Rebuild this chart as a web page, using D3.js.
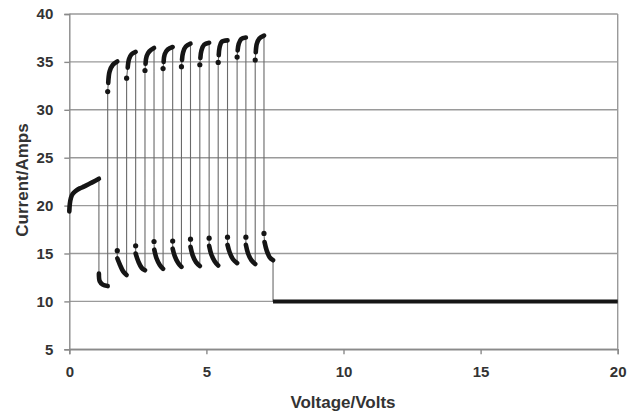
<!DOCTYPE html>
<html>
<head>
<meta charset="utf-8">
<script src="https://cdn.jsdelivr.net/npm/d3@7"></script>
<style>
  body { margin: 0; background: #fff; }
  text { font-family: "Liberation Sans", Arial, sans-serif; font-weight: bold; fill: #333; }
</style>
</head>
<body>
<div id="viz"></div>
<script>
const width = 636;
const height = 412;

const xTicks = [0, 5, 10, 15, 20];
const yTicks = [5, 10, 15, 20, 25, 30, 35, 40];

// start-up ramp, [volts, amps]
const rampPts = [[0, 19.4], [0.02, 20.2], [0.06, 20.8], [0.12, 21.2], [0.22, 21.5],
  [0.38, 21.8], [0.55, 22.0], [0.75, 22.3], [0.95, 22.6], [1.08, 22.8]];

// upper branches: first point is the lone dot, the rest the dense run
const highBranches = [
  [[1.40, 31.9], [1.42, 32.8], [1.47, 34.0], [1.59, 34.7], [1.75, 35.05]],
  [[2.09, 33.3], [2.13, 34.4], [2.18, 35.3], [2.27, 35.8], [2.42, 36.05]],
  [[2.76, 34.1], [2.78, 34.8], [2.82, 35.6], [2.92, 36.1], [3.09, 36.45]],
  [[3.42, 34.3], [3.44, 35.0], [3.48, 35.8], [3.59, 36.3], [3.77, 36.55]],
  [[4.09, 34.5], [4.11, 35.2], [4.15, 36.0], [4.25, 36.6], [4.42, 36.9]],
  [[4.76, 34.7], [4.78, 35.4], [4.82, 36.2], [4.92, 36.8], [5.10, 37.0]],
  [[5.43, 34.95], [5.45, 35.7], [5.48, 36.5], [5.56, 37.1], [5.77, 37.25]],
  [[6.12, 35.5], [6.14, 36.2], [6.18, 36.9], [6.27, 37.4], [6.44, 37.55]],
  [[6.78, 35.2], [6.80, 36.0], [6.84, 36.9], [6.93, 37.45], [7.10, 37.75]]
];

// lower branches, same layout
const lowBranches = [
  [[1.08, 12.9], [1.08, 12.9], [1.11, 12.1], [1.22, 11.75], [1.40, 11.6]],
  [[1.75, 15.3], [1.75, 14.5], [1.85, 13.8], [1.97, 13.1], [2.09, 12.75]],
  [[2.42, 15.8], [2.42, 15.0], [2.52, 14.15], [2.64, 13.5], [2.76, 13.25]],
  [[3.09, 16.25], [3.10, 15.4], [3.18, 14.5], [3.30, 13.8], [3.42, 13.4]],
  [[3.77, 16.3], [3.77, 15.5], [3.85, 14.7], [3.97, 14.0], [4.09, 13.6]],
  [[4.42, 16.5], [4.42, 15.7], [4.50, 14.8], [4.62, 14.1], [4.76, 13.7]],
  [[5.10, 16.6], [5.10, 15.8], [5.18, 14.9], [5.30, 14.2], [5.43, 13.75]],
  [[5.77, 16.7], [5.77, 15.9], [5.85, 15.1], [5.97, 14.4], [6.12, 14.0]],
  [[6.44, 16.7], [6.44, 15.9], [6.52, 15.0], [6.64, 14.3], [6.78, 13.9]],
  [[7.10, 17.1], [7.12, 16.2], [7.20, 15.3], [7.31, 14.6], [7.43, 14.3]]
];

const flatPts = [[7.43, 10], [20, 10]];

const svg = d3.select('#viz').append('svg')
  .attr('width', width)
  .attr('height', height);

const x = d3.scaleLinear().domain([0, 20]).range([69.3, 617.7]);
const y = d3.scaleLinear().domain([5, 40]).range([349.3, 14]);

// gridlines
svg.append('g').selectAll('line').data(yTicks).join('line')
  .attr('x1', x(0)).attr('x2', x(20))
  .attr('y1', d => y(d)).attr('y2', d => y(d))
  .attr('stroke', '#9a9a9a').attr('stroke-width', 1.4);

svg.append('line')
  .attr('x1', x(20)).attr('x2', x(20)).attr('y1', y(40)).attr('y2', y(5))
  .attr('stroke', '#9a9a9a').attr('stroke-width', 1.4);

const xAxis = svg.append('g')
  .attr('transform', `translate(0,${y(5)})`)
  .call(d3.axisBottom(x).tickValues(xTicks).tickSize(5).tickPadding(12));
const yAxis = svg.append('g')
  .attr('transform', `translate(${x(0)},0)`)
  .call(d3.axisLeft(y).tickValues(yTicks).tickSize(5).tickPadding(11));

[xAxis, yAxis].forEach(g => {
  g.selectAll('.domain, line').attr('stroke', '#8a8a8a').attr('stroke-width', 1.4);
  g.selectAll('text').attr('font-size', 15).attr('fill', '#333')
    .style('font-family', '"Liberation Sans", Arial, sans-serif').style('font-weight', 'bold');
});

// full trace in order
const segments = [rampPts];
lowBranches.forEach((b, i) => {
  segments.push(b);
  if (i < highBranches.length) segments.push(highBranches[i]);
});
segments.push(flatPts);
const trace = segments.flat();

const thin = d3.line().x(d => x(d[0])).y(d => y(d[1]));
svg.append('path')
  .attr('d', thin(trace))
  .attr('fill', 'none')
  .attr('stroke', '#6a6a6a')
  .attr('stroke-width', 1.1);

// dense marker runs
const thick = d3.line().x(d => x(d[0])).y(d => y(d[1])).curve(d3.curveCatmullRom.alpha(0.5));
const bodies = [rampPts]
  .concat(lowBranches.map(b => b.slice(1)))
  .concat(highBranches.map(b => b.slice(1)));

svg.append('g').selectAll('path').data(bodies).join('path')
  .attr('d', thick)
  .attr('fill', 'none')
  .attr('stroke', '#151515')
  .attr('stroke-width', 4.6)
  .attr('stroke-linecap', 'round')
  .attr('stroke-linejoin', 'round');

svg.append('path')
  .attr('d', thin(flatPts))
  .attr('fill', 'none')
  .attr('stroke', '#151515')
  .attr('stroke-width', 4);

const dots = lowBranches.slice(1).map(b => b[0]).concat(highBranches.map(b => b[0]));
svg.append('g').selectAll('circle').data(dots).join('circle')
  .attr('cx', d => x(d[0]))
  .attr('cy', d => y(d[1]))
  .attr('r', 2.6)
  .attr('fill', '#151515');

// axis titles
svg.append('text')
  .attr('x', 343).attr('y', 408)
  .attr('text-anchor', 'middle')
  .attr('font-size', 17)
  .text('Voltage/Volts');

svg.append('text')
  .attr('transform', 'translate(28,180) rotate(-90)')
  .attr('text-anchor', 'middle')
  .attr('font-size', 17)
  .text('Current/Amps');
</script>
</body>
</html>
